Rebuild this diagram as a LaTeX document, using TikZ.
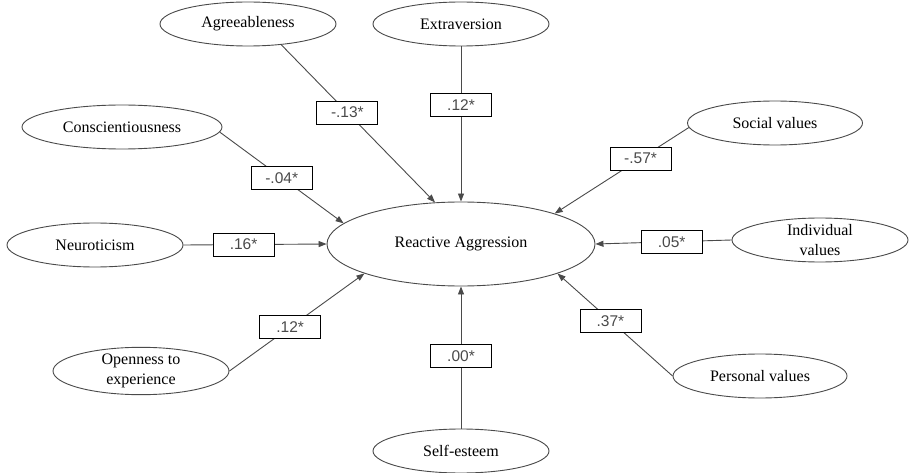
\documentclass[tikz,border=0pt]{standalone}
\usepackage{fontspec}
\setmainfont{Liberation Serif}
\newfontfamily\coeffont{Liberation Sans}
\usetikzlibrary{arrows.meta, shapes.geometric}
\definecolor{edge}{HTML}{4A4A4A}

\begin{document}
\begin{tikzpicture}[
  x=1pt, y=-1pt,
  latent/.style={ellipse, draw=edge, line width=0.9pt, fill=white,
    inner sep=0pt, minimum width=176pt, minimum height=44pt, align=center,
    font=\fontsize{16}{19.5}\selectfont},
  coef/.style={draw=black, line width=0.8pt, fill=white, inner sep=0pt,
    minimum width=61pt, minimum height=23pt,
    font=\coeffont\fontsize{15.5}{17}\selectfont},
  arr/.style={-{Triangle[length=8pt, width=6pt]}, edge, line width=0.9pt},
]
  \useasboundingbox (0,0) rectangle (910,473);

  \node[latent, minimum width=268pt, minimum height=84pt] (ra) at (461,244)
    {Reactive Aggression};

  % predictors
  \node[latent] (agr) at (248,24)  {Agreeableness};
  \node[latent] (ext) at (461,24)  {Extraversion};
  \node[latent, minimum width=200pt] (con) at (122,127) {Conscientiousness};
  \node[latent] (neu) at (95,245)  {Neuroticism};
  \node[latent] (ope) at (141,371) {Openness to\\experience};
  \node[latent] (ses) at (461,451) {Self-esteem};
  \node[latent, minimum width=175pt] (soc) at (775,123) {Social values};
  \node[latent] (ind) at (820,240) {Individual\\values};
  \node[latent, minimum width=174pt] (per) at (760,376) {Personal values};

  % paths with coefficients
  \draw[arr] (agr.-32) -- node[coef, pos=.43] {-.13*} (ra.122);
  \draw[arr] (ext.south) -- node[coef, pos=.38] {.12*} (ra.north);
  \draw[arr] (con.-3) -- node[coef, pos=.5] {-.04*} (ra.170);
  \draw[arr] (neu.east) -- node[coef, pos=.42] {.16*} (ra.west);
  \draw[arr] (ope.east) -- node[coef, pos=.45] {.12*} (ra.197);
  \draw[arr] (ses.north) -- node[coef, pos=.51] {.00*} (ra.south);
  \draw[arr] (soc.183) -- node[coef, pos=.36] {-.57*} (ra.18);
  \draw[arr] (ind.west) -- node[coef, pos=.44] {.05*} (ra.east);
  \draw[arr] (per.west) -- node[coef, pos=.54] {.37*} (ra.-17);
\end{tikzpicture}
\end{document}
